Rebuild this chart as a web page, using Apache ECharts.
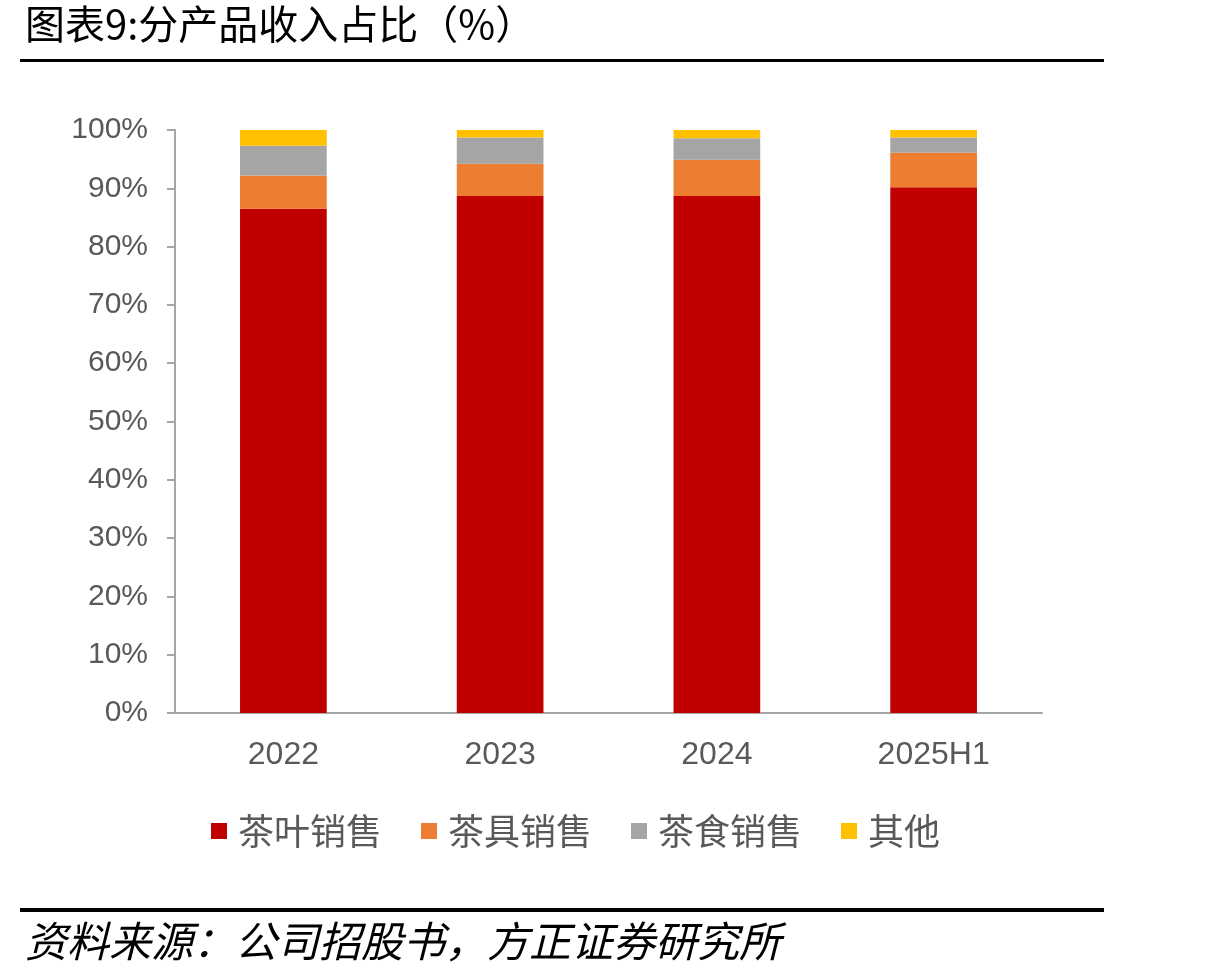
<!DOCTYPE html>
<html>
<head>
<meta charset="utf-8">
<script src="https://cdn.jsdelivr.net/npm/echarts@6/dist/echarts.min.js"></script>
<style>
  body { margin: 0; background: #fff; }
  #chart { width: 1230px; height: 980px; }
</style>
</head>
<body>
<div id="chart"></div>
<script>
const categories = ['2022', '2023', '2024', '2025H1'];
const teaLeaf = [86.5, 88.7, 88.7, 90.2];
const teaWare = [5.7, 5.5, 6.2, 5.9];
const teaFood = [5.1, 4.5, 3.7, 2.6];
const others = [2.7, 1.3, 1.4, 1.3];
const seriesNames = ['茶叶销售', '茶具销售', '茶食销售', '其他'];
const colors = ['#C00000', '#ED7D31', '#A5A5A5', '#FFC000'];

const cjk = '"Noto Sans CJK SC", sans-serif';
const num = '"Liberation Sans", Arial, sans-serif';

var myChart = echarts.init(document.getElementById('chart'));
var values = [teaLeaf, teaWare, teaFood, others];
var option = {
  animation: false,
  color: colors,
  grid: { left: 175, right: 188, top: 130, bottom: 267 },
  legend: {
    top: 808,
    left: 206,
    itemWidth: 16,
    itemHeight: 16,
    itemGap: 39,
    icon: 'rect',
    textStyle: { fontSize: 36, color: '#595959', fontFamily: cjk, padding: [0, 0, 0, 6] },
    data: seriesNames
  },
  xAxis: {
    type: 'category',
    data: categories,
    axisLine: { lineStyle: { color: '#A6A6A6', width: 2 } },
    axisTick: { show: false },
    axisLabel: { fontSize: 32, color: '#595959', fontFamily: num, margin: 26 }
  },
  yAxis: {
    type: 'value',
    min: 0,
    max: 100,
    interval: 10,
    splitLine: { show: false },
    axisLine: { show: true, lineStyle: { color: '#A6A6A6', width: 2 } },
    axisTick: { show: true, length: 8, lineStyle: { color: '#A6A6A6', width: 2 } },
    axisLabel: { fontSize: 30, color: '#595959', fontFamily: num, margin: 27, formatter: '{value}%' }
  },
  series: seriesNames.map(function (name, i) {
    return {
      name: name,
      type: 'bar',
      stack: 'total',
      barWidth: '40%',
      data: values[i]
    };
  }),
  graphic: [
    { type: 'text', left: 25, top: 4, style: { text: '图表9:分产品收入占比（%）', fontSize: 40, fontFamily: cjk, fill: '#000' } },
    { type: 'rect', shape: { x: 20, y: 59, width: 1084, height: 3 }, style: { fill: '#000' } },
    { type: 'rect', shape: { x: 20, y: 908, width: 1084, height: 4 }, style: { fill: '#000' } },
    { type: 'text', left: 25, top: 920, style: { text: '资料来源：公司招股书，方正证券研究所', fontSize: 42, fontStyle: 'italic', fontFamily: cjk, fill: '#000' } }
  ]
};
option && myChart.setOption(option);
</script>
</body>
</html>
